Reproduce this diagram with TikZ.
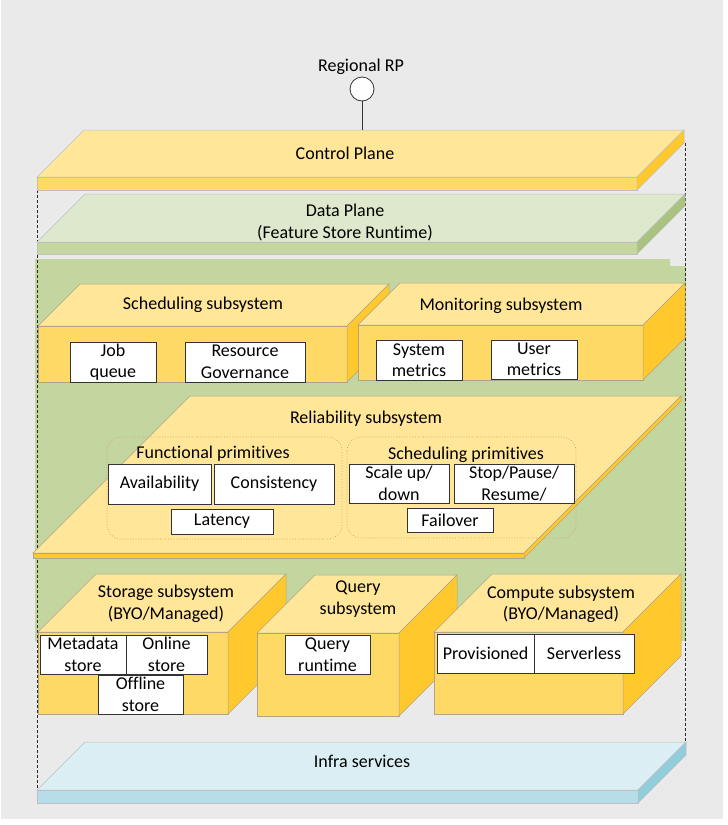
\documentclass[tikz,border=0pt]{standalone}
\usepackage{fontspec}
\setmainfont{Carlito}[Ligatures=NoCommon]
\definecolor{bg}{HTML}{EAEAEA}
\definecolor{ytop}{HTML}{FFE699}
\definecolor{yfront}{HTML}{FFD966}
\definecolor{yside}{HTML}{FFC92E}
\definecolor{gtop}{HTML}{DEE8CC}
\definecolor{gfront}{HTML}{C5D6A0}
\definecolor{gside}{HTML}{A9C47F}
\definecolor{greg}{HTML}{C4D6A0}
\definecolor{btop}{HTML}{DAEEF3}
\definecolor{bfront}{HTML}{B7DEE8}
\definecolor{bside}{HTML}{92CDDC}
\definecolor{edge}{HTML}{AFA58A}
\definecolor{sedge}{HTML}{BFBFBF}
\definecolor{grp}{HTML}{C99C6E}
% x1 y1 x2 y2 depth top front side edge
\newcommand\solidbox[9]{%
  \filldraw[fill=#6,draw=#9,line width=0.5pt] (#1,#2) -- ({#1+#5},{#2-#5}) -- ({#3+#5},{#2-#5}) -- (#3,#2) -- cycle;
  \filldraw[fill=#7,draw=#9,line width=0.5pt] (#1,#2) rectangle (#3,#4);
  \filldraw[fill=#8,draw=#9,line width=0.5pt] (#3,#2) -- ({#3+#5},{#2-#5}) -- ({#3+#5},{#4-#5}) -- (#3,#4) -- cycle;
}
\tikzset{
  lbl/.style={inner sep=0pt, align=center, text=black, yshift=-1.5pt},
  wbox/.style={draw=black!80, fill=white, line width=0.8pt, inner sep=0pt, align=center},
  grpbox/.style={draw=grp, dotted, line width=0.7pt, rounded corners=14pt},
  vdash/.style={draw=black!85, dash pattern=on 3pt off 2pt, line width=0.7pt}
}
\begin{document}
\begin{tikzpicture}[x=1pt,y=-1pt,font=\fontsize{18}{21.5}\selectfont]
\useasboundingbox (0,0) rectangle (728,825);
\fill[white] (0,0) rectangle (728,825);
\fill[bg] (1,0) rectangle (723,819);

% green data-plane region
\fill[greg] (35,259) -- (670,259) -- (670,266) -- (686,266) -- (686,641) -- (35,641) -- cycle;

% dashed verticals
\coordinate (lt) at (37,190);
\coordinate (lb) at (37,790);
\coordinate (rt) at (685,143);
\coordinate (rb) at (685,742);
\draw[vdash] (lt) -- (lb);
\draw[vdash] (rt) -- (rb);

% control plane
\solidbox{37}{177}{637}{190}{47}{ytop}{yfront}{yside}{sedge}
\node[lbl] (cp) at (345,152) {Control Plane};
% data plane
\solidbox{37}{242}{637}{254}{48}{gtop}{gfront}{gside}{sedge}
\node[lbl] (dp) at (345,221) {Data Plane\\(Feature Store Runtime)};

% regional RP
\node[lbl] (rplbl) at (361,65) {Regional RP};
\node[circle, draw=black!80, fill=white, minimum size=24pt, inner sep=0pt, line width=0.8pt] (rp) at (362,89) {};
\coordinate (cptop) at (362,130);
\draw[line width=0.8pt, black!80] (rp.south) -- (cptop);

% scheduling subsystem
\solidbox{38}{326}{347}{382}{42}{ytop}{yfront}{yside}{edge}
\node[lbl] (sched) at (203,303) {Scheduling subsystem};
\node[wbox, minimum width=86pt, minimum height=40pt] (jq) at (113,362) {Job\\queue};
\node[wbox, minimum width=120pt, minimum height=40pt] (rg) at (245,362) {Resource\\Governance};

% monitoring subsystem
\solidbox{358}{325}{643}{380}{42}{ytop}{yfront}{yside}{edge}
\node[lbl] (mon) at (501,304) {Monitoring subsystem};
\node[wbox, minimum width=86pt, minimum height=40pt] (sm) at (419,360) {System\\metrics};
\node[wbox, minimum width=86pt, minimum height=39pt] (um) at (534,359.5) {User\\metrics};

% reliability subsystem
\solidbox{33}{553}{524}{558}{157}{ytop}{yside}{yside}{edge}
\node[lbl] (rel) at (366,417) {Reliability subsystem};
\draw[grpbox] (107,437) rectangle (342,539);
\draw[grpbox] (347,437) rectangle (576,538);
\node[lbl] (fp) at (213,452) {Functional primitives};
\node[lbl] (sp) at (466,453) {Scheduling primitives};
\node[wbox, minimum width=103pt, minimum height=40pt] (av) at (159.5,484) {Availability};
\node[wbox, minimum width=120pt, minimum height=40pt] (co) at (274,484) {Consistency};
\node[wbox, minimum width=102pt, minimum height=25pt] (la) at (222,521.5) {Latency};
\node[wbox, minimum width=100pt, minimum height=39pt] (su) at (399,483.5) {Scale up/\\down};
\node[wbox, minimum width=120pt, minimum height=39pt] (spr) at (514,483.5) {Stop/Pause/\\Resume/};
\node[wbox, minimum width=86pt, minimum height=24pt] (fo) at (450,520) {Failover};

% storage subsystem
\solidbox{38}{632}{228}{714}{58}{ytop}{yfront}{yside}{edge}
\node[lbl] (sto) at (166,602.5) {Storage subsystem\\(BYO/Managed)};
\node[wbox, minimum width=86pt, minimum height=39pt] (ms) at (83,654.5) {Metadata\\store};
\node[wbox, minimum width=81pt, minimum height=39pt] (os) at (166.5,654.5) {Online\\store};
\node[wbox, minimum width=85pt, minimum height=39pt] (ofs) at (140.5,694.5) {Offline\\store};

% query subsystem
\solidbox{257}{633}{399}{716}{58}{ytop}{yfront}{yside}{edge}
\node[lbl] (qry) at (358,597.5) {Query\\subsystem};
\node[wbox, minimum width=85pt, minimum height=39pt] (qr) at (327.5,654.5) {Query\\runtime};

% compute subsystem
\solidbox{434}{632}{623}{714}{58}{ytop}{yfront}{yside}{edge}
\node[lbl] (cmp) at (561,603) {Compute subsystem\\(BYO/Managed)};
\node[wbox, minimum width=97pt, minimum height=39pt] (pv) at (485.5,653.5) {Provisioned};
\node[wbox, minimum width=100pt, minimum height=39pt] (sl) at (584,653.5) {Serverless};

% infra services
\solidbox{37}{790}{638}{803}{48}{btop}{bfront}{bside}{sedge}
\node[lbl] (inf) at (362,760) {Infra services};
\end{tikzpicture}
\end{document}
